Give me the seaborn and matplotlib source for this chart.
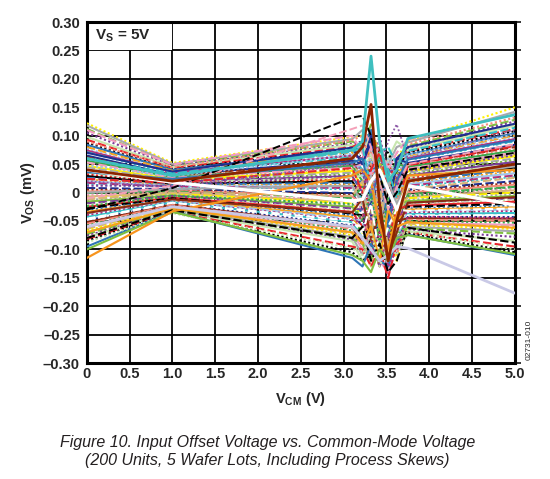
import numpy as np
import pandas as pd
import matplotlib
matplotlib.use("Agg")
import matplotlib.pyplot as plt
from matplotlib.patches import Rectangle
import seaborn as sns

# ---------------------------------------------------------------------------
# Data (VOS in mV at each common-mode voltage knot)
# ---------------------------------------------------------------------------
vcm_knots = [0.0, 1.0, 3.1, 3.22, 3.32, 3.42, 3.52, 3.62, 3.75, 5.0]

vos_units = [
    [0.122, 0.052, 0.098, 0.10, 0.09, 0.05, 0.02, 0.06, 0.090, 0.150],
    [0.118, 0.050, 0.094, 0.11, 0.07, 0.02, 0.05, 0.08, 0.088, 0.142],
    [0.112, 0.048, 0.090, 0.08, 0.12, 0.06, -0.02, 0.03, 0.082, 0.128],
    [0.105, 0.047, 0.086, 0.09, 0.04, 0.10, 0.03, 0.05, 0.078, 0.125],
    [0.098, 0.045, 0.084, 0.07, 0.10, -0.01, 0.06, 0.09, 0.075, 0.118],
    [0.093, 0.043, 0.080, 0.09, 0.06, 0.03, -0.04, 0.02, 0.072, 0.112],
    [0.088, 0.041, 0.077, 0.06, 0.02, 0.08, 0.07, 0.04, 0.070, 0.108],
    [0.084, 0.040, 0.074, 0.08, 0.11, 0.04, 0.00, 0.06, 0.067, 0.104],
    [0.080, 0.038, 0.071, 0.05, 0.08, 0.09, 0.02, -0.01, 0.064, 0.100],
    [0.077, 0.036, 0.068, 0.07, 0.03, -0.03, 0.05, 0.07, 0.062, 0.097],
    [0.074, 0.035, 0.065, 0.06, 0.09, 0.05, -0.06, 0.01, 0.060, 0.094],
    [0.071, 0.034, 0.062, 0.04, 0.01, 0.07, 0.08, 0.05, 0.057, 0.090],
    [0.068, 0.032, 0.059, 0.07, 0.05, -0.02, 0.03, 0.04, 0.055, 0.087],
    [0.065, 0.031, 0.056, 0.05, 0.10, 0.02, -0.03, 0.06, 0.052, 0.084],
    [0.062, 0.030, 0.053, 0.03, 0.04, 0.08, 0.01, -0.02, 0.050, 0.080],
    [0.059, 0.028, 0.050, 0.06, 0.07, 0.01, -0.07, 0.03, 0.047, 0.077],
    [0.056, 0.027, 0.047, 0.02, -0.02, 0.06, 0.04, 0.05, 0.045, 0.074],
    [0.053, 0.026, 0.044, 0.05, 0.08, -0.04, 0.02, 0.00, 0.042, 0.070],
    [0.050, 0.024, 0.041, 0.04, 0.00, 0.03, 0.06, 0.02, 0.040, 0.067],
    [0.047, 0.023, 0.038, 0.01, 0.06, 0.05, -0.05, 0.04, 0.037, 0.064],
    [0.044, 0.022, 0.035, 0.04, -0.03, 0.00, 0.03, -0.03, 0.035, 0.060],
    [0.041, 0.020, 0.032, 0.03, 0.05, 0.07, -0.02, 0.01, 0.032, 0.057],
    [0.038, 0.019, 0.029, 0.00, 0.02, -0.05, 0.04, 0.03, 0.030, 0.054],
    [0.035, 0.018, 0.026, 0.03, 0.07, 0.02, -0.08, -0.01, 0.027, 0.050],
    [0.032, 0.016, 0.023, 0.02, -0.04, 0.04, 0.05, 0.02, 0.025, 0.047],
    [0.029, 0.015, 0.020, -0.01, 0.03, -0.06, 0.00, 0.04, 0.022, 0.044],
    [0.026, 0.014, 0.017, 0.02, 0.06, 0.01, -0.03, -0.04, 0.020, 0.040],
    [0.023, 0.012, 0.014, 0.01, -0.05, 0.05, 0.02, 0.00, 0.017, 0.037],
    [0.020, 0.011, 0.011, -0.02, 0.02, -0.02, -0.10, 0.01, 0.015, 0.034],
    [0.017, 0.010, 0.008, 0.01, 0.04, 0.03, -0.04, -0.02, 0.012, 0.030],
    [0.014, 0.008, 0.005, -0.01, -0.06, -0.01, 0.03, 0.02, 0.010, 0.027],
    [0.011, 0.007, 0.002, 0.00, 0.03, -0.08, -0.02, -0.03, 0.007, 0.024],
    [0.008, 0.006, -0.001, -0.03, -0.02, 0.02, -0.06, 0.00, 0.005, 0.020],
    [0.005, 0.004, -0.004, 0.00, 0.05, -0.04, -0.12, -0.05, 0.002, 0.017],
    [0.002, 0.003, -0.007, -0.02, -0.07, 0.01, 0.00, -0.01, 0.000, 0.014],
    [-0.001, 0.002, -0.010, 0.01, 0.01, -0.07, -0.03, -0.06, -0.003, 0.010],
    [-0.004, 0.000, -0.013, -0.03, -0.04, -0.02, -0.09, 0.01, -0.005, 0.007],
    [-0.007, -0.001, -0.016, -0.01, 0.02, -0.09, -0.05, -0.04, -0.008, 0.004],
    [-0.010, -0.002, -0.019, -0.04, -0.08, 0.00, -0.11, -0.03, -0.010, 0.000],
    [-0.013, -0.004, -0.022, -0.02, 0.00, -0.05, -0.02, -0.07, -0.013, -0.003],
    [-0.016, -0.005, -0.025, -0.05, -0.03, -0.10, -0.07, -0.02, -0.015, -0.006],
    [-0.019, -0.006, -0.028, -0.03, -0.09, -0.03, -0.13, -0.05, -0.018, -0.010],
    [-0.022, -0.008, -0.031, -0.02, -0.01, -0.08, -0.04, -0.08, -0.020, -0.013],
    [-0.025, -0.009, -0.034, -0.06, -0.05, -0.11, -0.08, -0.03, -0.023, -0.016],
    [-0.028, -0.010, -0.037, -0.04, -0.10, -0.02, -0.14, -0.06, -0.025, -0.020],
    [-0.031, -0.012, -0.040, -0.03, -0.02, -0.06, -0.09, -0.09, -0.028, -0.023],
    [-0.034, -0.013, -0.043, -0.07, -0.06, -0.12, -0.03, -0.05, -0.030, -0.026],
    [-0.037, -0.014, -0.046, -0.05, -0.11, -0.04, -0.10, -0.08, -0.033, -0.030],
    [-0.040, -0.016, -0.049, -0.04, -0.03, -0.09, -0.15, -0.04, -0.035, -0.033],
    [-0.043, -0.017, -0.052, -0.08, -0.07, -0.05, -0.06, -0.10, -0.038, -0.036],
    [-0.046, -0.018, -0.055, -0.06, -0.12, -0.10, -0.02, -0.07, -0.040, -0.040],
    [-0.049, -0.020, -0.058, -0.05, -0.04, -0.07, -0.12, -0.09, -0.043, -0.043],
    [-0.052, -0.021, -0.061, -0.09, -0.08, -0.13, -0.08, -0.05, -0.045, -0.046],
    [-0.055, -0.022, -0.064, -0.07, -0.05, -0.03, -0.11, -0.11, -0.048, -0.050],
    [-0.058, -0.024, -0.067, -0.06, -0.10, -0.08, -0.05, -0.08, -0.050, -0.053],
    [-0.061, -0.025, -0.070, -0.10, -0.06, -0.12, -0.14, -0.06, -0.053, -0.057],
    [-0.064, -0.026, -0.072, -0.08, -0.13, -0.06, -0.09, -0.10, -0.055, -0.060],
    [-0.067, -0.028, -0.075, -0.07, -0.09, -0.11, -0.04, -0.12, -0.058, -0.064],
    [-0.070, -0.029, -0.078, -0.11, -0.07, -0.09, -0.13, -0.08, -0.060, -0.068],
    [-0.073, -0.030, -0.081, -0.09, -0.12, -0.05, -0.10, -0.07, -0.063, -0.072],
    [-0.076, -0.032, -0.083, -0.08, -0.08, -0.13, -0.07, -0.11, -0.065, -0.078],
    [-0.079, -0.033, -0.086, -0.12, -0.10, -0.08, -0.12, -0.09, -0.068, -0.085],
    [-0.082, -0.034, -0.095, -0.10, -0.13, -0.10, -0.15, -0.09, -0.070, -0.095],
    [-0.085, -0.035, -0.105, -0.12, -0.11, -0.07, -0.08, -0.10, -0.072, -0.105],
    [-0.095, -0.033, -0.115, -0.13, -0.09, -0.12, -0.13, -0.08, -0.074, -0.110],
]

# second batch of units, filling the gaps of the bundle
vos_units_b = [
    [0.110, 0.049, 0.100, 0.07, 0.03, 0.09, 0.04, 0.07, 0.093, 0.138],
    [0.090, 0.044, 0.092, 0.10, 0.05, -0.02, 0.01, 0.05, 0.085, 0.132],
    [0.070, 0.037, 0.079, 0.05, 0.09, 0.03, -0.05, 0.06, 0.080, 0.121],
    [0.060, 0.033, 0.072, 0.08, 0.01, 0.06, 0.04, -0.01, 0.073, 0.114],
    [0.048, 0.029, 0.066, 0.03, 0.06, -0.03, 0.06, 0.03, 0.066, 0.102],
    [0.036, 0.024, 0.052, 0.06, -0.01, 0.04, -0.06, 0.02, 0.058, 0.092],
    [0.024, 0.017, 0.043, 0.00, 0.04, 0.07, 0.01, -0.04, 0.048, 0.082],
    [0.012, 0.012, 0.030, 0.04, -0.05, -0.01, -0.08, 0.03, 0.038, 0.066],
    [0.000, 0.006, 0.012, -0.02, 0.03, -0.06, 0.02, -0.02, 0.022, 0.046],
    [-0.012, 0.000, -0.006, 0.02, -0.07, 0.02, -0.10, -0.05, 0.006, 0.026],
    [-0.024, -0.006, -0.020, -0.05, 0.00, -0.09, -0.01, 0.00, -0.006, 0.010],
    [-0.036, -0.012, -0.035, -0.01, -0.08, -0.04, -0.12, -0.07, -0.018, -0.008],
    [-0.048, -0.018, -0.050, -0.07, -0.02, -0.11, -0.06, -0.03, -0.032, -0.028],
    [-0.060, -0.024, -0.060, -0.04, -0.11, -0.07, -0.13, -0.10, -0.042, -0.045],
    [-0.070, -0.028, -0.070, -0.09, -0.06, -0.12, -0.03, -0.06, -0.052, -0.062],
    [-0.080, -0.031, -0.080, -0.06, -0.12, -0.09, -0.14, -0.12, -0.062, -0.088],
    [-0.088, -0.036, -0.098, -0.11, -0.07, -0.13, -0.09, -0.11, -0.068, -0.100],
    [-0.100, -0.034, -0.110, -0.12, -0.14, -0.10, -0.12, -0.08, -0.075, -0.108],
]

# units that stand out from the bundle
vos_orange = [-0.115, -0.033, 0.030, 0.040, 0.020, -0.060, -0.100, -0.040, 0.030, 0.040]
vos_lavender = [-0.060, -0.025, -0.060, -0.080, -0.100, -0.120, -0.110, -0.095, -0.098, -0.177]
vos_purple = [0.020, 0.010, 0.050, 0.040, 0.000, 0.040, 0.090, 0.120, 0.060, 0.110]
vos_black_dash = [-0.030, 0.008, 0.132, 0.135, 0.100, 0.030, -0.020, 0.000, 0.040, 0.070]
vos_pink_dash = [-0.010, 0.012, 0.112, 0.118, 0.080, 0.020, -0.030, 0.010, 0.050, 0.085]
vos_white = [0.040, 0.018, -0.015, -0.012, 0.020, 0.040, 0.005, -0.030, 0.012, -0.022]
vos_brown = [0.040, 0.020, 0.060, 0.080, 0.155, -0.020, -0.120, -0.050, 0.020, 0.050]
vos_cyan = [0.060, 0.030, 0.075, 0.090, 0.240, 0.090, 0.020, 0.040, 0.095, 0.137]

y_ticks = [0.30, 0.25, 0.20, 0.15, 0.10, 0.05, 0, -0.05, -0.10, -0.15, -0.20, -0.25, -0.30]
y_ticklabels = ["0.30", "0.25", "0.20", "0.15", "0.10", "0.05", "0",
                "\u20130.05", "\u20130.10", "\u20130.15", "\u20130.20", "\u20130.25", "\u20130.30"]
x_ticks = [0, 0.5, 1.0, 1.5, 2.0, 2.5, 3.0, 3.5, 4.0, 4.5, 5.0]
x_ticklabels = ["0", "0.5", "1.0", "1.5", "2.0", "2.5", "3.0", "3.5", "4.0", "4.5", "5.0"]

# ---------------------------------------------------------------------------
# Style
# ---------------------------------------------------------------------------
sns.set_style("white")
plt.rcParams["font.family"] = ["Liberation Sans", "DejaVu Sans"]
plt.rcParams["mathtext.fontset"] = "custom"
plt.rcParams["mathtext.rm"] = "Liberation Sans:bold"
plt.rcParams["mathtext.it"] = "Liberation Sans:bold"
plt.rcParams["mathtext.bf"] = "Liberation Sans:bold"

pal = ["#1f2f8f", "#e8262b", "#3aa84a", "#f7a21b", "#fff200", "#36c0c8",
       "#7b3f98", "#8b2c13", "#000000", "#f49ac1", "#9fc5e8", "#a7a9ac",
       "#ffffff", "#c8e6b0", "#f58b7a", "#2e75b6", "#d6b47a", "#b32d7a",
       "#7fbf3f"]
line_styles = ["-", (0, (4, 1.6)), (0, (1, 1.2))]

fig = plt.figure(figsize=(5.5, 4.79), dpi=100)
ax = fig.add_axes([0.158, 0.242, 0.778, 0.712])

for i, vals in enumerate(vos_units):
    sns.lineplot(x=vcm_knots, y=vals, ax=ax, color=pal[(i * 7 + 4) % len(pal)],
                 linestyle=line_styles[(i + 2) % 3], lw=1.5, zorder=3)
for i, vals in enumerate(vos_units_b):
    sns.lineplot(x=vcm_knots, y=vals, ax=ax, color=pal[(i * 5 + 9) % len(pal)],
                 linestyle=line_styles[(i + 1) % 3], lw=1.5, zorder=3)

specials = [
    (vos_orange, "#f7941d", "-", 1.6),
    (vos_lavender, "#c9c9e6", "-", 2.0),
    (vos_purple, "#8e5aa8", (0, (1, 1.2)), 1.3),
    (vos_pink_dash, "#f4a0b8", (0, (4, 1.6)), 1.4),
    (vos_black_dash, "#000000", (0, (4, 1.6)), 1.4),
    (vos_white, "#ffffff", "-", 2.4),
    (vos_brown, "#8b2500", "-", 2.0),
    (vos_cyan, "#3fbfbf", "-", 2.0),
]
for vals, c, ls, lw in specials:
    sns.lineplot(x=vcm_knots, y=vals, ax=ax, color=c, linestyle=ls, lw=lw, zorder=4)

ax.set_xlim(0, 5)
ax.set_ylim(-0.30, 0.30)
ax.set_xticks(x_ticks)
ax.set_xticklabels(x_ticklabels, fontsize=10.5, fontweight="bold")
ax.set_yticks(y_ticks)
ax.set_yticklabels(y_ticklabels, fontsize=10.5, fontweight="bold")
ax.grid(True, color="black", lw=1.3)
ax.set_axisbelow(True)
for s in ax.spines.values():
    s.set_color("black")
    s.set_linewidth(2.2)
ax.tick_params(axis="y", left=False, right=True, direction="out", length=4,
               width=1.3, pad=1, labelleft=True, labelright=False)
ax.tick_params(axis="x", bottom=False, length=0, pad=3)

ax.set_xlabel("V$_{\\rm CM}$ (V)", fontsize=10.5, fontweight="bold", labelpad=6)
ax.set_ylabel("V$_{\\rm OS}$ (mV)", fontsize=10.5, fontweight="bold", labelpad=4)

# white box behind the supply label hides the first grid cell line
ax.add_patch(Rectangle((0.004, 0.2515), 0.99, 0.047, facecolor="white",
                       edgecolor="none", zorder=2.5))
ax.text(0.02, 0.96, "V$_{\\rm S}$ = 5V", transform=ax.transAxes,
        fontsize=11, fontweight="bold", va="center", ha="left", zorder=5)

fig.text(0.962, 0.29, "02731-010", rotation=90, fontsize=6, ha="center", va="center")
fig.text(0.486, 0.077, "Figure 10. Input Offset Voltage vs. Common-Mode Voltage",
         fontsize=11.5, style="italic", ha="center", va="center", color="#231f20")
fig.text(0.486, 0.039, "(200 Units, 5 Wafer Lots, Including Process Skews)",
         fontsize=11.5, style="italic", ha="center", va="center", color="#231f20")

fig.savefig("out.png", dpi=100)
